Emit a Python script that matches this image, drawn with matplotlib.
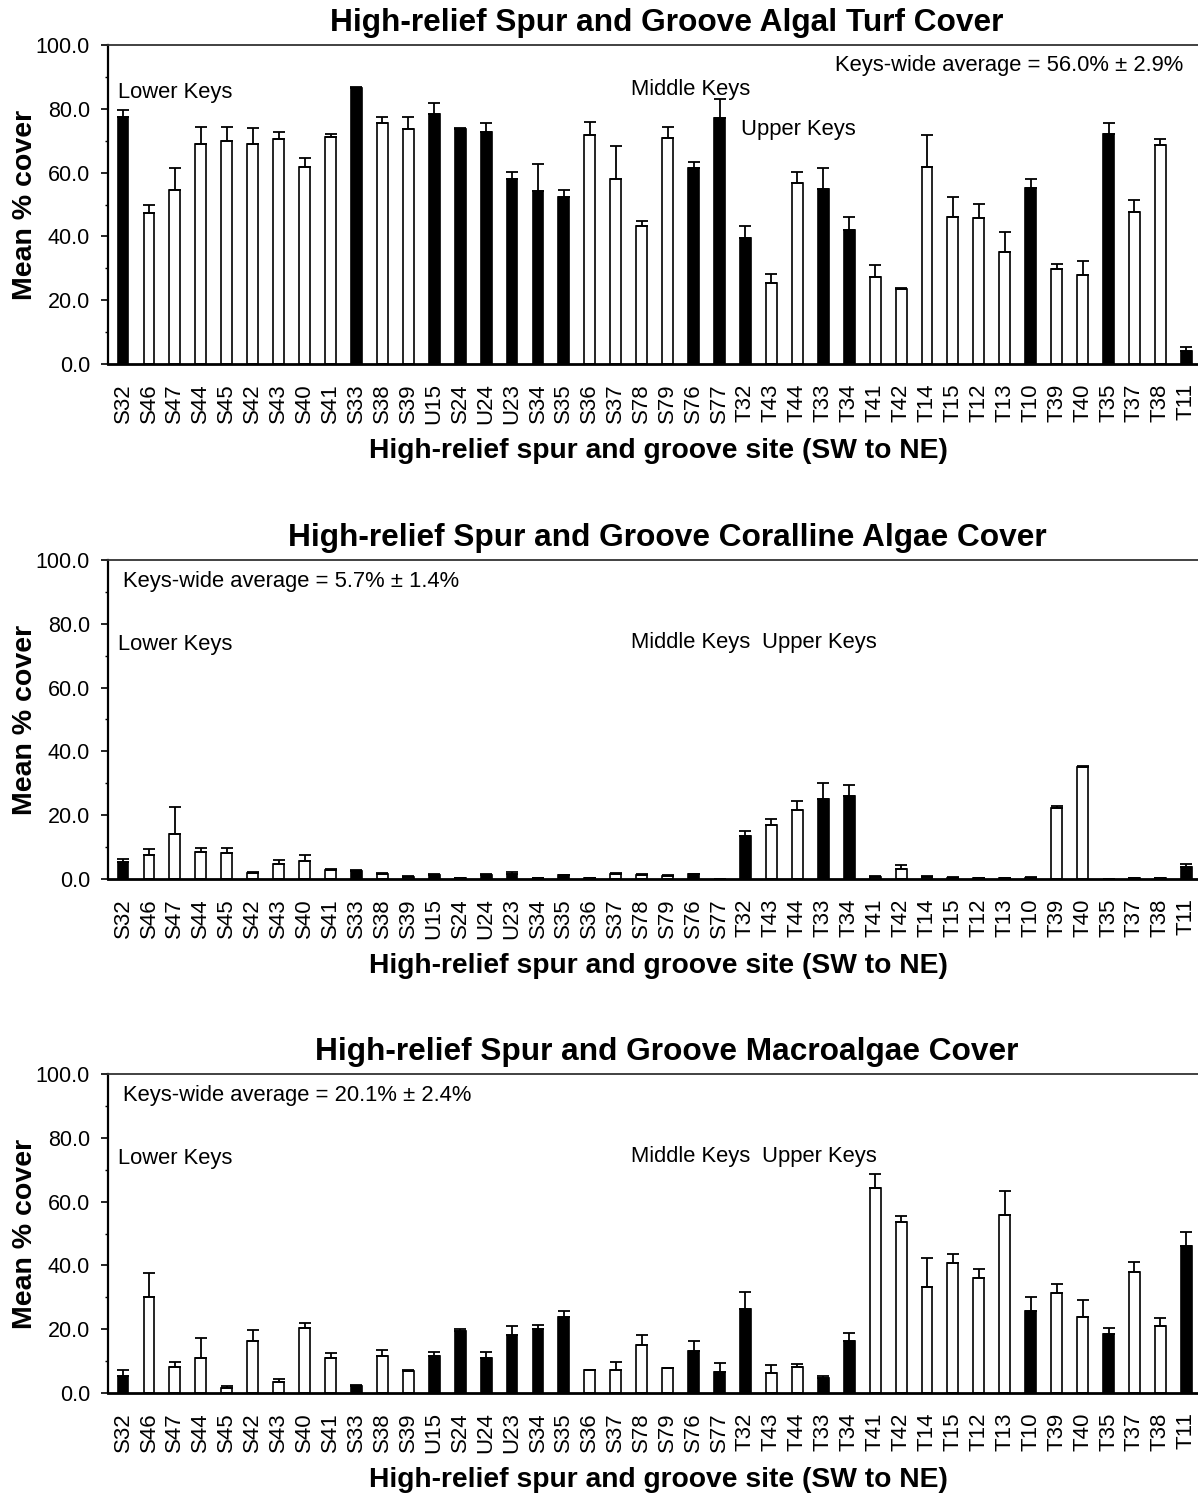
import numpy as np
import matplotlib
matplotlib.use("Agg")
import matplotlib.pyplot as plt
from matplotlib.ticker import MultipleLocator, FormatStrFormatter

plt.rcParams['font.family'] = ['Liberation Sans', 'DejaVu Sans']

sites = ['S32', 'S46', 'S47', 'S44', 'S45', 'S42', 'S43', 'S40', 'S41', 'S33',
         'S38', 'S39', 'U15', 'S24', 'U24', 'U23', 'S34', 'S35', 'S36', 'S37',
         'S78', 'S79', 'S76', 'S77', 'T32', 'T43', 'T44', 'T33', 'T34', 'T41',
         'T42', 'T14', 'T15', 'T12', 'T13', 'T10', 'T39', 'T40', 'T35', 'T37',
         'T38', 'T11']
# sites drawn as solid black bars
black_sites = ['S32', 'S33', 'U15', 'S24', 'U24', 'U23', 'S34', 'S35', 'S76',
               'S77', 'T32', 'T33', 'T34', 'T10', 'T35', 'T11']

turf_mean = [77.3, 47.2, 54.7, 68.9, 69.8, 68.9, 70.4, 61.9, 71.3, 86.5,
             75.4, 73.6, 78.4, 73.7, 72.7, 58.0, 54.3, 52.4, 71.7, 58.0,
             43.3, 70.8, 61.4, 77.0, 39.6, 25.4, 56.7, 54.8, 42.0, 27.3,
             23.6, 61.9, 46.2, 45.7, 35.0, 55.2, 29.7, 27.8, 72.2, 47.6,
             68.5, 4.2]
turf_se = [2.3, 2.8, 6.6, 5.5, 4.6, 5.1, 2.3, 2.7, 0.8, 0.3,
           1.9, 3.7, 3.3, 0.3, 2.8, 2.3, 8.4, 2.2, 4.3, 10.4,
           1.4, 3.6, 1.8, 6.0, 3.8, 2.8, 3.6, 6.6, 4.2, 3.8,
           0.2, 9.8, 6.2, 4.4, 6.4, 2.8, 1.8, 4.4, 3.3, 3.8,
           2.0, 1.0]

coral_mean = [5.2, 7.5, 14.1, 8.5, 8.0, 2.0, 4.7, 5.5, 2.9, 2.5,
              1.6, 0.7, 1.3, 0.3, 1.3, 1.5, 0.3, 1.1, 0.3, 1.6,
              1.4, 1.0, 1.5, 0.0, 13.4, 17.0, 21.7, 25.1, 26.0, 0.7,
              3.1, 0.7, 0.4, 0.3, 0.3, 0.4, 22.2, 35.0, 0.0, 0.3,
              0.3, 3.8]
coral_se = [1.1, 1.9, 8.6, 1.3, 1.8, 0.3, 1.4, 2.0, 0.3, 0.3,
            0.3, 0.2, 0.2, 0.1, 0.2, 0.8, 0.1, 0.2, 0.1, 0.3,
            0.2, 0.3, 0.2, 0.0, 1.8, 1.9, 2.8, 5.1, 3.6, 0.3,
            1.2, 0.2, 0.1, 0.1, 0.1, 0.1, 0.6, 0.3, 0.0, 0.1,
            0.1, 0.9]

macro_mean = [5.4, 30.0, 8.3, 11.1, 1.7, 16.4, 3.6, 20.5, 11.1, 2.3,
              11.5, 7.0, 11.7, 19.3, 11.1, 18.2, 20.2, 23.8, 7.2, 7.2,
              14.9, 7.7, 13.1, 6.5, 26.2, 6.4, 8.3, 4.6, 16.4, 64.4,
              53.6, 33.3, 40.8, 36.1, 55.8, 25.8, 31.4, 23.9, 18.6, 38.0,
              21.1, 46.1]
macro_se = [1.8, 7.5, 1.3, 6.1, 0.4, 3.2, 0.8, 1.4, 1.5, 0.1,
            2.0, 0.2, 1.2, 0.7, 1.8, 2.8, 1.2, 1.9, 0.1, 2.5,
            3.3, 0.1, 3.2, 2.8, 5.6, 2.3, 0.9, 0.7, 2.3, 4.3,
            1.8, 9.0, 2.9, 2.8, 7.5, 4.3, 2.8, 5.2, 1.9, 3.0,
            2.3, 4.3]

titles = ['High-relief Spur and Groove Algal Turf Cover',
          'High-relief Spur and Groove Coralline Algae Cover',
          'High-relief Spur and Groove Macroalgae Cover']
averages = ['Keys-wide average = 56.0% \u00b1 2.9%',
            'Keys-wide average = 5.7% \u00b1 1.4%',
            'Keys-wide average = 20.1% \u00b1 2.4%']

fig = plt.figure(figsize=(11.98, 14.96), dpi=100)
W, H = 1198.0, 1496.0
ax_left = 108 / W
ax_width = 1.0 - ax_left
ax_h = 319 / H
tops = [45, 560, 1074]

x = np.arange(len(sites))
colors = ['black' if s in black_sites else 'white' for s in sites]

panels = [(turf_mean, turf_se), (coral_mean, coral_se), (macro_mean, macro_se)]

for i, (mean, se) in enumerate(panels):
    bottom = 1 - (tops[i] + 319) / H
    ax = fig.add_axes([ax_left, bottom, ax_width, ax_h])
    mean = np.array(mean)
    se = np.array(se)
    ax.bar(x, mean, width=0.42, color=colors, edgecolor='black',
           linewidth=1.2, zorder=2)
    ax.errorbar(x, mean, yerr=[np.zeros_like(se), se], fmt='none',
                ecolor='black', elinewidth=1.3, capsize=4, capthick=1.3,
                zorder=3)
    ax.set_xlim(-0.58, 41.45)
    ax.set_ylim(0, 100)
    ax.yaxis.set_major_locator(MultipleLocator(20))
    ax.yaxis.set_minor_locator(MultipleLocator(10))
    ax.yaxis.set_major_formatter(FormatStrFormatter('%.1f'))
    ax.tick_params(axis='y', which='major', direction='out', length=5,
                   width=1.2, labelsize=15.5, pad=8)
    ax.tick_params(axis='y', which='minor', direction='out', length=2.5,
                   width=1.0)
    ax.set_xticks(x)
    ax.set_xticklabels(sites, rotation=90, fontsize=16)
    ax.tick_params(axis='x', length=0, pad=14)
    ax.spines['right'].set_visible(False)
    ax.spines['left'].set_linewidth(1.6)
    ax.spines['bottom'].set_linewidth(2.0)
    ax.spines['top'].set_linewidth(1.3)
    ax.spines['top'].set_color('#333333')

    ax.text(0.513, 1 + 22 / 319, titles[i], transform=ax.transAxes,
            ha='center', va='center', fontsize=22.8, fontweight='bold')
    ax.text(-0.076, 0.5, 'Mean % cover', transform=ax.transAxes,
            rotation=90, ha='center', va='center', fontsize=20.5,
            fontweight='bold')
    ax.text(0.505, -87 / 319, 'High-relief spur and groove site (SW to NE)',
            transform=ax.transAxes, ha='center', va='center', fontsize=20.3,
            fontweight='bold')

    if i == 0:
        ax.text(-0.2, 85, 'Lower Keys', ha='left', va='center', fontsize=15.8)
        ax.text(19.57, 86.2, 'Middle Keys', ha='left', va='center', fontsize=15.8)
        ax.text(23.84, 73.4, 'Upper Keys', ha='left', va='center', fontsize=15.8)
        ax.text(40.87, 93.7, averages[i], ha='right', va='center', fontsize=15.8)
    else:
        ax.text(-0.2, 73.4, 'Lower Keys', ha='left', va='center', fontsize=15.8)
        ax.text(19.57, 74, 'Middle Keys', ha='left', va='center', fontsize=15.8)
        ax.text(24.65, 74, 'Upper Keys', ha='left', va='center', fontsize=15.8)
        ax.text(0.0, 93.4, averages[i], ha='left', va='center', fontsize=15.8)

fig.savefig('out.png', dpi=100)
